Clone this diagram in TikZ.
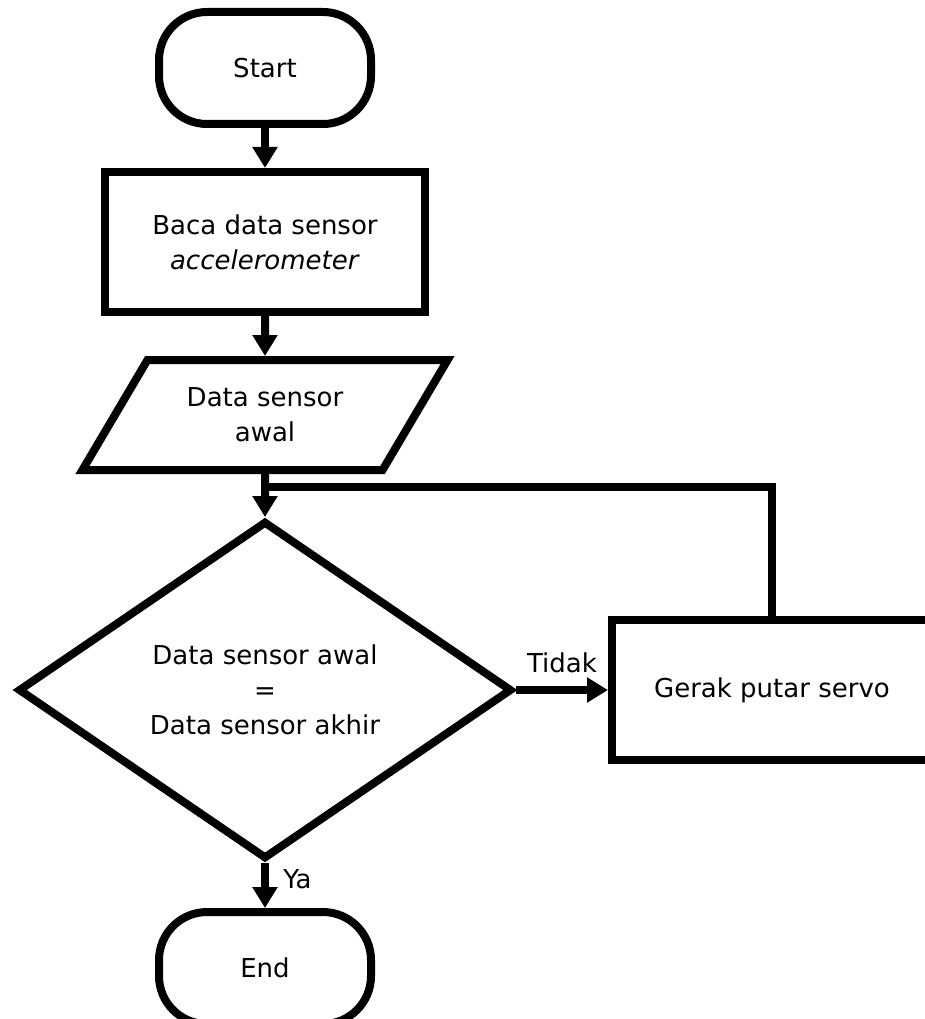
\documentclass[tikz,border=0pt]{standalone}
\usepackage{fontspec}
\setmainfont{DejaVu Sans}
\usetikzlibrary{positioning, arrows.meta, shapes.geometric}

\begin{document}
\begin{tikzpicture}[
    x=1pt, y=1pt,
    every node/.style={font=\fontsize{26pt}{35pt}\selectfont, align=center},
    terminal/.style={rectangle, rounded corners=48pt, draw=black, line width=8pt, minimum width=212pt, minimum height=112pt},
    process/.style={rectangle, draw=black, line width=8pt, minimum width=320pt, minimum height=140pt},
    io/.style={trapezium, trapezium left angle=53.5, trapezium right angle=126.5, trapezium stretches=true, draw=black, line width=8pt, minimum width=366pt, minimum height=110pt},
    decision/.style={diamond, aspect=1.46, draw=black, line width=8pt, minimum width=494pt, minimum height=338pt, inner sep=0pt},
    flow/.style={line width=8pt, -{Triangle[length=21pt, width=24pt]}},
]
\useasboundingbox (0,0) rectangle (925,-1019);
\node[terminal] (start) at (265,-68) {Start};
\node[process] (read) [below = 40pt of start] {Baca data sensor\\\textit{accelerometer}};
\node[io] (initdata) [below = 40pt of read] {Data sensor\\awal};
\node[decision] (check) [below = 43pt of initdata] {Data sensor awal\\=\\Data sensor akhir};
\node[process] (servo) [right = 92pt of check] {Gerak putar servo};
\node[terminal] (end) [below = 45pt of check] {End};
\coordinate[below = 13pt of initdata] (merge);

\draw[flow] (start) -- (read);
\draw[flow] (read) -- (initdata);
\draw[flow] (initdata) -- (check);
\draw[flow] (check) -- node[above=10pt] {Tidak} (servo);
\draw[flow] (check) -- node[right=11pt, pos=0.35] {Ya} (end);
\draw[line width=8pt] (servo) |- (merge);
\end{tikzpicture}
\end{document}
